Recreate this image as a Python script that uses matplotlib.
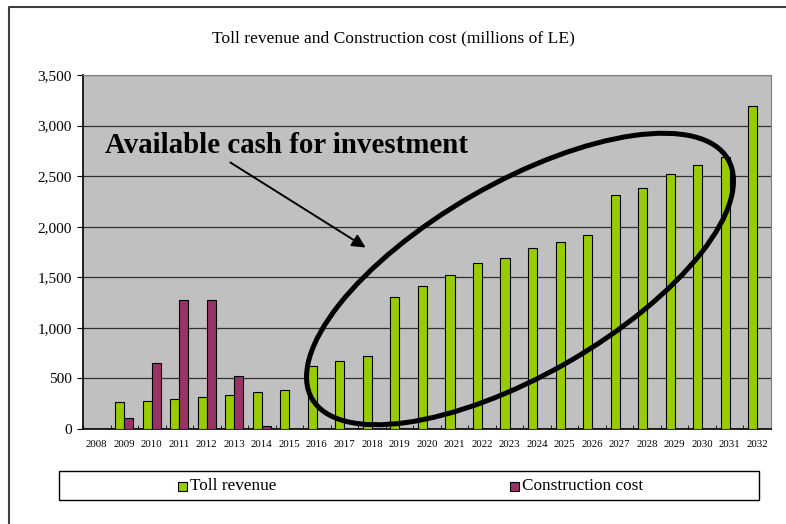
import matplotlib
matplotlib.use("Agg")
import matplotlib.pyplot as plt
import matplotlib.patches as mpatches
from matplotlib.lines import Line2D
from matplotlib.ticker import FuncFormatter, MultipleLocator
import numpy as np

# colours
PLOT_BG = "#c0c0c0"
TOLL    = "#99cc00"
COST    = "#993366"
GRID    = "#303030"
BORDER  = "#808080"
FRAME   = "#404040"

plt.rcParams["font.family"] = ["Liberation Serif", "DejaVu Serif"]

# data (millions of LE)
years        = list(range(2008, 2033))
toll_revenue = [0, 264, 274, 300, 314, 337, 363, 386, 622, 673, 726, 1310, 1409,
                1525, 1637, 1686, 1789, 1848, 1914, 2314, 2386, 2525, 2611, 2693, 3195]
constr_cost  = [0, 112, 650, 1274, 1274, 525, 26, 0, 0, 0, 0, 0, 0,
                0, 0, 0, 0, 0, 0, 0, 0, 0, 0, 0, 0]

W, H = 786, 524
fig = plt.figure(figsize=(W / 100, H / 100), dpi=100, facecolor="white")
ax = fig.add_axes([83 / W, 1 - 429 / H, (771 - 83) / W, (429 - 75) / H])
ax.set_facecolor(PLOT_BG)

x  = np.arange(len(years))
bw = 0.33
ax.bar(x - bw / 2, toll_revenue, width=bw, color=TOLL, edgecolor="black",
       linewidth=0.8, zorder=3)
ax.bar(x + bw / 2, constr_cost, width=bw, color=COST, edgecolor="black",
       linewidth=0.8, zorder=3)

ax.set_xlim(-0.5, len(years) - 0.5)
ax.set_ylim(0, 3500)
ax.yaxis.set_major_locator(MultipleLocator(500))
ax.yaxis.set_major_formatter(FuncFormatter(lambda v, p: f"{int(v):,}"))
ax.yaxis.grid(True, color=GRID, linewidth=0.9, zorder=1)
ax.set_axisbelow(True)

ax.set_xticks(x)
ax.set_xticklabels([str(y) for y in years], fontsize=7.8)
ax.set_xticks(np.arange(-0.5, len(years), 1.0), minor=True)
ax.tick_params(axis="x", which="major", length=0, pad=8)
ax.tick_params(axis="x", which="minor", length=3, direction="in", color="black")
ax.tick_params(axis="y", length=4, direction="out", labelsize=11, pad=4)

for side in ("top", "right"):
    ax.spines[side].set_color(BORDER)
for side in ("left", "bottom"):
    ax.spines[side].set_color("black")
    ax.spines[side].set_linewidth(1.2)

# title
fig.text(0.5, 1 - 38 / H, "Toll revenue and Construction cost (millions of LE)",
         ha="center", va="center", fontsize=12.6)

# callout: text, arrow and ellipse round the growing revenue
fig.text(105 / W, 1 - 153 / H, "Available cash for investment",
         ha="left", va="baseline", fontsize=20.8, fontweight="bold")
fig.add_artist(mpatches.FancyArrowPatch(
    (228, H - 161), (368, H - 249), transform=None,
    arrowstyle="-|>", mutation_scale=20, color="black", lw=1.4, zorder=5))
fig.add_artist(mpatches.Ellipse((5.20, 2.45), 4.80, 1.92, angle=29.9,
                                transform=fig.dpi_scale_trans, fill=False,
                                edgecolor="black", lw=3.6, zorder=5))

# legend box
fig.add_artist(mpatches.Rectangle((59 / W, 1 - 500 / H), 700 / W, 29 / H,
                                  transform=fig.transFigure, facecolor="white",
                                  edgecolor="black", lw=1.0))
for mx, col, label in [(178, TOLL, "Toll revenue"), (510, COST, "Construction cost")]:
    fig.add_artist(mpatches.Rectangle((mx / W, 1 - 491 / H), 9 / W, 9 / H,
                                      transform=fig.transFigure, facecolor=col,
                                      edgecolor="black", lw=0.8))
    fig.text((mx + 12) / W, 1 - 486 / H, label, ha="left", va="center", fontsize=12.4)

# outer chart frame (left and top edges)
fig.add_artist(Line2D([9 / W, 9 / W, 1.0], [0.0, 1 - 7 / H, 1 - 7 / H],
                      transform=fig.transFigure, color=FRAME, lw=1.5))

fig.savefig("out.png", dpi=100, facecolor="white")
